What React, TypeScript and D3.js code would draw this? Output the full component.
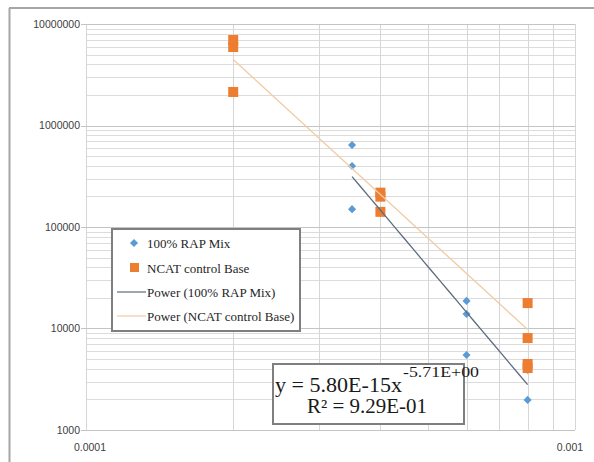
import React from "react";
import * as d3 from "d3";

const rapX = [0.00035, 0.00035, 0.00035, 0.0006, 0.0006, 0.0006, 0.0008, 0.0008];
const rapY = [643000, 399000, 150000, 18700, 13900, 5480, 3900, 1980];
const ncatX = [0.0002, 0.0002, 0.0002, 0.0004, 0.0004, 0.0004, 0.0008, 0.0008, 0.0008, 0.0008];
const ncatY = [6960000, 5930000, 2140000, 218000, 199000, 141000, 17800, 8050, 4470, 4080];

// Power trendlines y = a * x^b
const rapPowerA = 5.8e-15;
const rapPowerB = -5.71;
const ncatPowerA = 2.0e-10;
const ncatPowerB = -4.42;

const yTickValues = [1000, 10000, 100000, 1000000, 10000000];
const yTickLabels = ["1000", "10000", "100000", "1000000", "10000000"];
const xTickValues = [0.0001, 0.001];
const xTickLabels = ["0.0001", "0.001"];

const legendLabels = ["100% RAP Mix", "NCAT control Base", "Power (100% RAP Mix)", "Power (NCAT control Base)"];
const equationMain = "y = 5.80E-15x";
const equationExp = "-5.71E+00";
const equationR2 = "R\u00B2 = 9.29E-01";

const W = 594;
const H = 462;
const plot = { left: 86, right: 575, top: 24, bottom: 430 };

const BLUE = "#5b9bd5";
const ORANGE = "#ed7d31";
const BLUE_TREND = "#5d6b7e";
const ORANGE_TREND = "#f0cca6";
const SERIF = "'Liberation Serif', 'Times New Roman', serif";
const SANS = "'Liberation Sans', Arial, sans-serif";

export default function App() {
  const x = d3.scaleLog().domain([0.0001, 0.001]).range([plot.left, plot.right]);
  const y = d3.scaleLog().domain([1000, 10000000]).range([plot.bottom, plot.top]);

  const xGrid: number[] = [];
  for (let m = 1; m <= 10; m++) xGrid.push(m * 0.0001);
  const yGridMinor: number[] = [];
  for (let e = 3; e < 7; e++) for (let m = 2; m <= 9; m++) yGridMinor.push(m * Math.pow(10, e));

  const trend = (a: number, b: number, x0: number, x1: number) => {
    const pts = d3.range(0, 21).map((i) => {
      const xv = Math.exp(Math.log(x0) + (Math.log(x1) - Math.log(x0)) * (i / 20));
      return [xv, a * Math.pow(xv, b)] as [number, number];
    });
    return d3.line<[number, number]>().x((d) => x(d[0])).y((d) => y(d[1]))(pts) || "";
  };

  const diamond = d3.symbol().type(d3.symbolDiamond2).size(42)() || "";

  const legendX = 112, legendY = 229, legendW = 188, legendH = 102;
  const rowY = [243, 268, 292, 316];

  return (
    <svg width={W} height={H} style={{ position: "absolute", left: 0, top: 0, background: "#fff" }}>
      <rect x={0} y={0} width={W} height={H} fill="#fff" />
      {/* outer frame */}
      <line x1={9} x2={W} y1={8} y2={8} stroke="#a6a6a6" strokeWidth={2} />
      <line x1={9.5} x2={9.5} y1={8} y2={H} stroke="#a6a6a6" strokeWidth={2} />

      {/* grid */}
      {yGridMinor.map((v, i) => (
        <line key={"ym" + i} x1={plot.left} x2={plot.right} y1={Math.round(y(v)) + 0.5} y2={Math.round(y(v)) + 0.5} stroke="#dcdcdc" strokeWidth={1} />
      ))}
      {xGrid.map((v, i) => (
        <line key={"xg" + i} x1={Math.round(x(v)) + 0.5} x2={Math.round(x(v)) + 0.5} y1={plot.top} y2={plot.bottom} stroke="#d6d6d6" strokeWidth={1} />
      ))}
      {yTickValues.map((v, i) => (
        <line key={"yM" + i} x1={plot.left - 5} x2={plot.right} y1={Math.round(y(v)) + 0.5} y2={Math.round(y(v)) + 0.5} stroke="#c4c4c4" strokeWidth={1} />
      ))}

      {/* tick labels */}
      {yTickValues.map((v, i) => (
        <text key={"yl" + i} x={80} y={y(v)} dy="0.35em" textAnchor="end" fontFamily={SANS} fontSize={10.5} fill="#404040">
          {yTickLabels[i]}
        </text>
      ))}
      {xTickValues.map((v, i) => (
        <text key={"xl" + i} x={x(v) + (i === 0 ? 4 : -5)} y={451} textAnchor="middle" fontFamily={SANS} fontSize={10.5} fill="#404040">
          {xTickLabels[i]}
        </text>
      ))}

      {/* markers */}
      {rapX.map((xv, i) => (
        <path key={"r" + i} d={diamond} transform={`translate(${x(xv)},${y(rapY[i])})`} fill={BLUE} />
      ))}
      {ncatX.map((xv, i) => (
        <rect key={"n" + i} x={x(xv) - 5} y={y(ncatY[i]) - 5} width={10} height={10} fill={ORANGE} />
      ))}

      {/* trendlines */}
      <path d={trend(ncatPowerA, ncatPowerB, d3.min(ncatX)!, d3.max(ncatX)!)} fill="none" stroke={ORANGE_TREND} strokeWidth={1.3} />
      <path d={trend(rapPowerA, rapPowerB, d3.min(rapX)!, d3.max(rapX)!)} fill="none" stroke={BLUE_TREND} strokeWidth={1.3} />

      {/* legend */}
      <rect x={legendX} y={legendY} width={legendW} height={legendH} fill="#fff" stroke="#7f7f7f" strokeWidth={2} />
      <path d={diamond} transform={`translate(${134},${rowY[0]})`} fill={BLUE} />
      <rect x={130} y={rowY[1] - 5} width={9} height={9} fill={ORANGE} />
      <line x1={117} x2={146} y1={rowY[2]} y2={rowY[2]} stroke={BLUE_TREND} strokeWidth={1.2} />
      <line x1={117} x2={146} y1={rowY[3]} y2={rowY[3]} stroke={ORANGE_TREND} strokeWidth={1.2} />
      {legendLabels.map((t, i) => (
        <text key={"lg" + i} x={147} y={rowY[i]} dy="0.35em" fontFamily={SERIF} fontSize={13} fill="#262626">
          {t}
        </text>
      ))}

      {/* equation box */}
      <rect x={273} y={364} width={191} height={60} fill="#fff" stroke="#7f7f7f" strokeWidth={2} />
      <text x={275} y={392} fontFamily={SERIF} fontSize={20} fill="#1a1a1a" textLength={127} lengthAdjust="spacingAndGlyphs">
        {equationMain}
      </text>
      <text x={403} y={377} fontFamily={SERIF} fontSize={15} fill="#1a1a1a" textLength={76} lengthAdjust="spacingAndGlyphs">
        {equationExp}
      </text>
      <text x={307} y={413} fontFamily={SERIF} fontSize={20} fill="#1a1a1a" textLength={120} lengthAdjust="spacingAndGlyphs">
        {equationR2}
      </text>
    </svg>
  );
}
